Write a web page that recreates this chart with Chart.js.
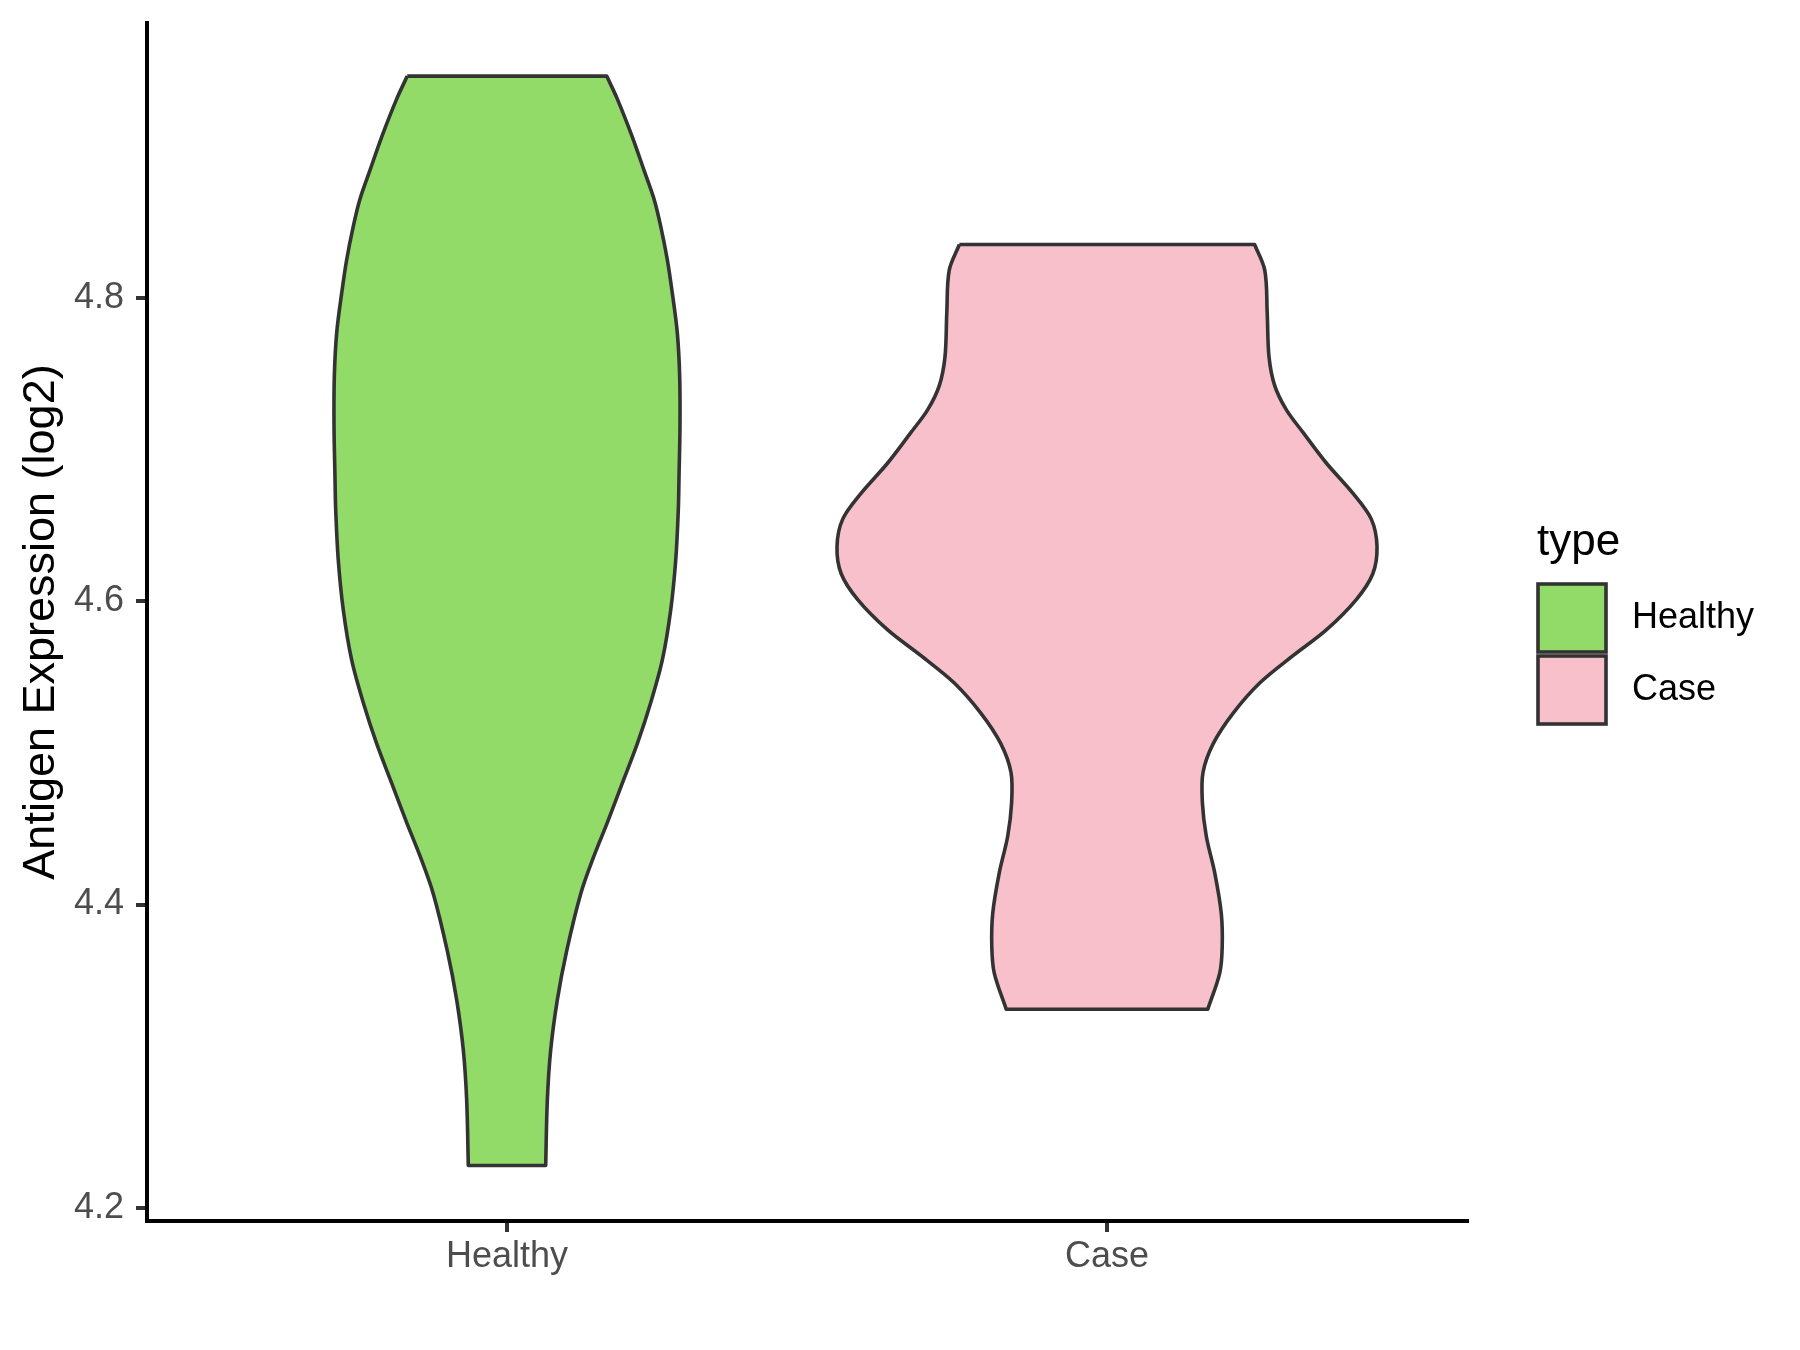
<!DOCTYPE html>
<html>
<head>
<meta charset="utf-8">
<script src="https://cdn.jsdelivr.net/npm/chart.js@4.4.1/dist/chart.umd.min.js"></script>
<style>
  html, body { margin: 0; padding: 0; background: #ffffff; }
  #wrap { width: 1800px; height: 1350px; }
</style>
</head>
<body>
<div id="wrap"><canvas id="c" width="1800" height="1350"></canvas></div>
<script>
// ---- Data ----
const categories = ['Healthy', 'Case'];
const fillColors = ['#93DB69', '#F7C0CB'];
const yTicks = [4.2, 4.4, 4.6, 4.8];
const yLabel = 'Antigen Expression (log2)';
const legendTitle = 'type';

// Violin outlines: expression value and half-width (in category units)
const healthyValues = [4.946, 4.931, 4.906, 4.884, 4.865, 4.847, 4.825, 4.803, 4.777, 4.748, 4.715, 4.682, 4.660, 4.627, 4.594, 4.561, 4.533, 4.506, 4.480, 4.454, 4.432, 4.407, 4.369, 4.337, 4.304, 4.271, 4.228];
const healthyHalfWidths = [0.1662, 0.1838, 0.2088, 0.2283, 0.2450, 0.2562, 0.2672, 0.2755, 0.2838, 0.2878, 0.2883, 0.2867, 0.2855, 0.2812, 0.2728, 0.2588, 0.2395, 0.2172, 0.1922, 0.1672, 0.1450, 0.1228, 0.0992, 0.0838, 0.0728, 0.0672, 0.0645];
const caseValues = [4.835, 4.818, 4.790, 4.761, 4.742, 4.726, 4.711, 4.691, 4.671, 4.654, 4.636, 4.618, 4.601, 4.581, 4.564, 4.546, 4.526, 4.506, 4.487, 4.467, 4.445, 4.421, 4.394, 4.372, 4.355, 4.331];
const caseHalfWidths = [0.246, 0.263, 0.267, 0.270, 0.2795, 0.299, 0.327, 0.3655, 0.410, 0.4405, 0.450, 0.443, 0.4155, 0.3655, 0.310, 0.2545, 0.210, 0.177, 0.160, 0.159, 0.1655, 0.1795, 0.1905, 0.192, 0.188, 0.168];

const violinValues = [healthyValues, caseValues];
const violinHalfWidths = [healthyHalfWidths, caseHalfWidths];

// Build closed outline (left side top->bottom, right side bottom->top); corners duplicated to stay sharp
function violinShape(pos, vals, hw) {
  const n = vals.length;
  const pts = [];
  for (let i = 0; i < n; i++) {
    pts.push({ x: pos - hw[i], y: vals[i] });
    if (i === 0 || i === n - 1) pts.push({ x: pos - hw[i], y: vals[i] });
  }
  for (let i = n - 1; i >= 0; i--) {
    pts.push({ x: pos + hw[i], y: vals[i] });
    if (i === 0 || i === n - 1) pts.push({ x: pos + hw[i], y: vals[i] });
  }
  pts.push({ x: pos - hw[0], y: vals[0] });
  return pts;
}

const FONT = "'Liberation Sans', Arial, Helvetica, sans-serif";

const datasets = categories.map((c, i) => ({
  label: c,
  data: violinShape(i + 1, violinValues[i], violinHalfWidths[i]),
  showLine: true,
  fill: 'shape',
  backgroundColor: fillColors[i],
  borderColor: '#333333',
  borderWidth: 3.6,
  borderJoinStyle: 'round',
  pointRadius: 0,
  pointHoverRadius: 0,
  tension: 0.33
}));

const legendPlugin = {
  id: 'customLegend',
  afterDraw(chart) {
    const ctx = chart.ctx;
    ctx.save();
    ctx.fillStyle = '#000000';
    ctx.font = '44px ' + FONT;
    ctx.textAlign = 'left';
    ctx.textBaseline = 'alphabetic';
    ctx.fillText(legendTitle, 1537, 555);
    const boxX = 1538, boxW = 68, boxH = 68, startY = 584, gap = 72;
    categories.forEach((c, i) => {
      const y = startY + i * gap;
      ctx.fillStyle = fillColors[i];
      ctx.fillRect(boxX, y, boxW, boxH);
      ctx.strokeStyle = '#333333';
      ctx.lineWidth = 3.6;
      ctx.strokeRect(boxX, y, boxW, boxH);
      ctx.fillStyle = '#000000';
      ctx.font = '36px ' + FONT;
      ctx.textBaseline = 'middle';
      ctx.fillText(c, 1632, y + boxH / 2);
    });
    ctx.restore();
  }
};

new Chart(document.getElementById('c'), {
  type: 'scatter',
  data: { datasets },
  plugins: [legendPlugin],
  options: {
    responsive: false,
    animation: false,
    devicePixelRatio: 1,
    layout: { padding: { top: 23, right: 333, left: 0, bottom: 0 } },
    plugins: { legend: { display: false }, tooltip: { enabled: false } },
    scales: {
      x: {
        type: 'linear',
        min: 0.4,
        max: 2.6,
        afterBuildTicks(scale) { scale.ticks = categories.map((c, i) => ({ value: i + 1 })); },
        afterFit(scale) { scale.height = 129; scale.paddingLeft = 0; scale.paddingRight = 0; },
        ticks: {
          autoSkip: false,
          maxRotation: 0,
          padding: 3,
          color: '#4D4D4D',
          font: { family: FONT, size: 36 },
          callback: (v) => categories[Math.round(v) - 1]
        },
        grid: { display: true, drawOnChartArea: false, drawTicks: true, tickLength: 11, tickWidth: 4, tickColor: '#333333', color: '#333333', lineWidth: 4 },
        border: { display: true, color: '#000000', width: 4 }
      },
      y: {
        type: 'linear',
        min: 4.1914,
        max: 4.981,
        afterBuildTicks(scale) { scale.ticks = yTicks.map(v => ({ value: v })); },
        afterFit(scale) { scale.width = 147; scale.paddingTop = 0; scale.paddingBottom = 0; },
        ticks: {
          padding: 12,
          color: '#4D4D4D',
          font: { family: FONT, size: 36 },
          callback: (v) => Number(v).toFixed(1)
        },
        grid: { display: true, drawOnChartArea: false, drawTicks: true, tickLength: 11, tickWidth: 4, tickColor: '#333333', color: '#333333', lineWidth: 4 },
        border: { display: true, color: '#000000', width: 4 },
        title: {
          display: true,
          text: yLabel,
          color: '#000000',
          font: { family: FONT, size: 45 },
          padding: { top: 15, bottom: 0 }
        }
      }
    }
  }
});
</script>
</body>
</html>
